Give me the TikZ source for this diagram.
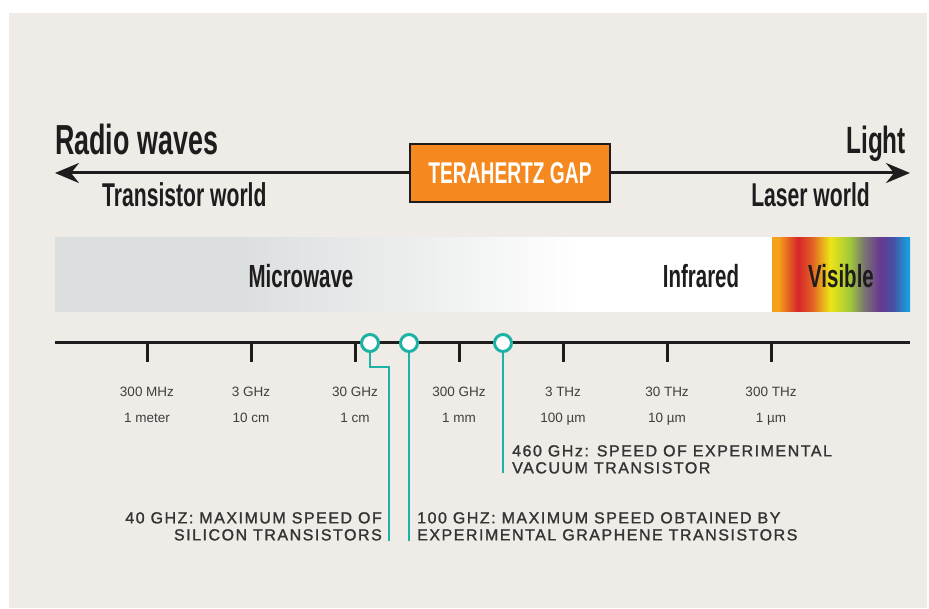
\documentclass[tikz,border=0pt]{standalone}
\usepackage{fontspec}
\setmainfont{Liberation Sans}
\newfontfamily\condfont{Liberation Sans}[FakeStretch=0.64]
\newfontfamily\capsfont{Liberation Sans}[LetterSpace=9.5,FakeBold=1.4]
\usepackage{xcolor}
\usetikzlibrary{arrows.meta}
\definecolor{paper}{RGB}{239,236,231}
\definecolor{ink}{RGB}{30,28,29}
\definecolor{gaporange}{RGB}{245,137,31}
\definecolor{leadteal}{RGB}{30,178,164}
\definecolor{mwgrey}{RGB}{220,223,224}
\definecolor{mwlight}{RGB}{236,238,238}
\definecolor{vorange}{RGB}{245,162,27}
\definecolor{vred}{RGB}{214,38,43}
\definecolor{vredor}{RGB}{226,96,36}
\definecolor{vyellow}{RGB}{238,228,22}
\definecolor{vgreen}{RGB}{160,200,60}
\definecolor{vgrey}{RGB}{122,118,112}
\definecolor{vpurple}{RGB}{104,56,146}
\definecolor{vviolet}{RGB}{72,80,162}
\definecolor{vblue}{RGB}{24,156,222}
\pgfdeclarehorizontalshading{mwband}{100bp}{color(0bp)=(mwgrey); color(25bp)=(mwgrey); color(37.9bp)=(mwgrey); color(50bp)=(mwlight); color(61.6bp)=(white); color(75bp)=(white); color(100bp)=(white)}
\pgfdeclarehorizontalshading{visband}{100bp}{color(0bp)=(vorange); color(25bp)=(vorange); color(27.2bp)=(vorange); color(34.4bp)=(vred); color(39.5bp)=(vredor); color(46bp)=(vyellow); color(53.3bp)=(vgreen); color(58.3bp)=(vgrey); color(64.1bp)=(vpurple); color(68.8bp)=(vviolet); color(74bp)=(vblue); color(100bp)=(vblue)}

\begin{document}
\begin{tikzpicture}[x=1pt,y=-1pt,
    condtext/.style={font=\condfont\bfseries\fontsize{#1}{#1}\selectfont, text=ink, inner sep=0pt},
    ticklabel/.style={font=\fontsize{13.5}{13.5}\selectfont, text=ink!85, inner sep=0pt},
    note/.style={font=\capsfont\fontsize{16}{17}\selectfont, text=ink!90, inner sep=0pt},
    gapbox/.style={draw=ink, line width=2pt, fill=gaporange, text=white, minimum width=200pt, minimum height=58pt, inner sep=0pt},
    bigarrow/.style={line width=3pt, draw=ink, -{Stealth[length=24pt,width=20pt,inset=8pt]}},
    dot/.style={circle, draw=leadteal, fill=white, line width=3pt, minimum size=17pt, inner sep=0pt},
    lead/.style={draw=leadteal, line width=2.5pt},
    tick/.style={draw=ink, line width=3pt}]
        %%% PAPER %%%
        \useasboundingbox (0,0) rectangle (929,609);
        \fill[paper] (9,13) rectangle (927,608);

        %%% TOP ARROW %%%
        \node[gapbox] (gap) at (510,173) {\condfont\bfseries\fontsize{30}{30}\selectfont TERAHERTZ GAP};
        \coordinate (radioend) at (55,173);
        \coordinate (lightend) at (910,173);
        \draw[bigarrow] (gap.west) -- (radioend);
        \draw[bigarrow] (gap.east) -- (lightend);
        \node[condtext=42, anchor=base west] (radio) at (55,155) {Radio waves};
        \node[condtext=33, anchor=base west] (transistor) at (102,207) {Transistor world};
        \node[condtext=38, anchor=base east] (light) at (906,154) {Light};
        \node[condtext=33, anchor=base east] (laser) at (870,207) {Laser world};

        %%% SPECTRUM BAR %%%
        \shade[shading=mwband] (55,238) rectangle (772,312);
        \shade[shading=visband] (772,238) rectangle (910,312);
        \node[condtext=32, anchor=base] (microwave) at (301,288) {Microwave};
        \node[condtext=32, anchor=base] (infrared) at (701,288) {Infrared};
        \node[condtext=32, anchor=base] (visible) at (841,288) {Visible};

        %%% SCALE %%%
        \coordinate (axl) at (55,343);
        \coordinate (axr) at (910,343);
        \draw[tick] (axl) -- (axr);
        \foreach \x/\freq/\wave in {147/300 MHz/1 meter, 251/3 GHz/10 cm, 355/30 GHz/1 cm, 459/300 GHz/1 mm, 563/3 THz/100 µm, 667/30 THz/10 µm, 771/300 THz/1 µm}
        {
            \draw[tick] (\x,343) -- (\x,362);
            \node[ticklabel, anchor=base] (freq\x) at (\x,396) {\freq};
            \node[ticklabel, anchor=base] (wave\x) at (\x,422) {\wave};
        }

        %%% MARKERS %%%
        \node[dot] (d40) at (370,343) {};
        \node[dot] (d100) at (409,343) {};
        \node[dot] (d460) at (503,343) {};
        \coordinate (bend40) at (389,367);
        \coordinate (end40) at (389,541);
        \coordinate (end100) at (409,541);
        \coordinate (end460) at (503,473);
        \draw[lead] (d40.south) |- (bend40) -- (end40);
        \draw[lead] (d100.south) -- (end100);
        \draw[lead] (d460.south) -- (end460);

        \node[note, anchor=north east, align=right] (n40) at (382,512) {40 GHZ: MAXIMUM SPEED OF\\SILICON TRANSISTORS};
        \node[note, anchor=north west, align=left] (n100) at (417,512) {100 GHZ: MAXIMUM SPEED OBTAINED BY\\EXPERIMENTAL GRAPHENE TRANSISTORS};
        \node[note, anchor=north west, align=left] (n460) at (512,445) {460 GHz: SPEED OF EXPERIMENTAL\\VACUUM TRANSISTOR};
    \end{tikzpicture}
\end{document}
